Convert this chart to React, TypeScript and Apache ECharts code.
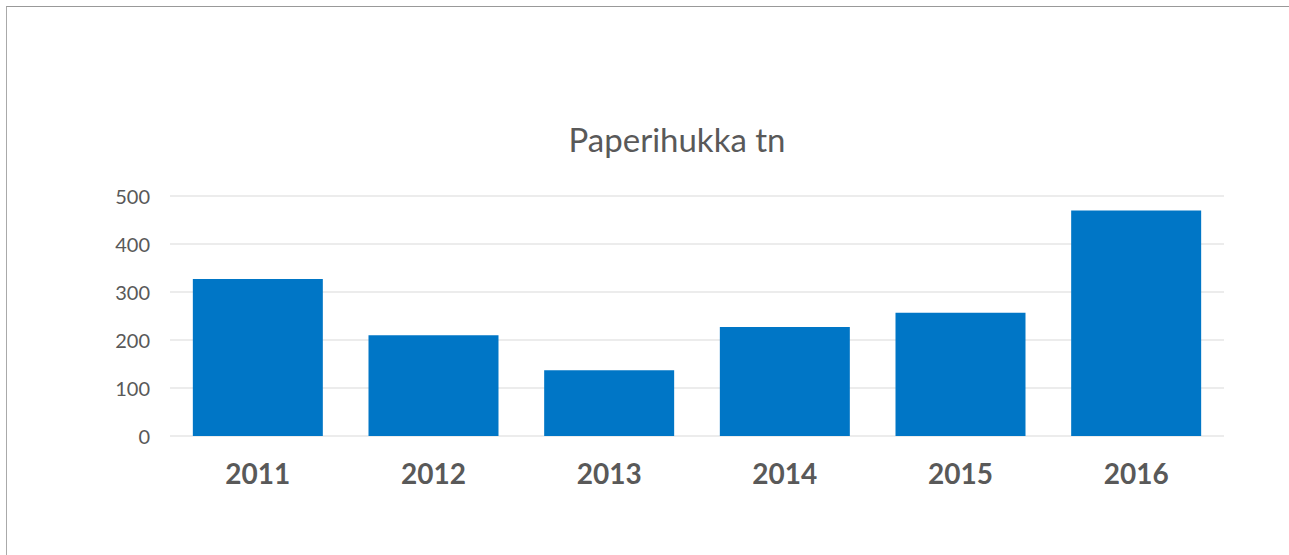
import React, { useEffect, useRef } from "react";
import * as echarts from "echarts";

const categories = ["2011", "2012", "2013", "2014", "2015", "2016"];
const values = [327, 210, 137, 227, 257, 470];
const titleText = "Paperihukka tn";

export default function App() {
  const ref = useRef<HTMLDivElement>(null);
  useEffect(() => {
    if (!ref.current) return;
    const chart = echarts.init(ref.current, null, { renderer: "svg" });
    chart.setOption({
      animation: false,
      backgroundColor: "#ffffff",
      title: {
        text: titleText,
        left: "center",
        top: 110,
        textStyle: {
          fontFamily: "Lato",
          fontSize: 33,
          fontWeight: "normal",
          color: "#595959",
        },
      },
      grid: { left: 163, top: 189, width: 1054, height: 240, containLabel: false },
      xAxis: {
        type: "category",
        data: categories,
        axisLine: { show: false },
        axisTick: { show: false },
        axisLabel: {
          fontFamily: "Lato",
          fontSize: 28,
          fontWeight: "bold",
          color: "#595959",
          margin: 23,
        },
      },
      yAxis: {
        type: "value",
        min: 0,
        max: 500,
        interval: 100,
        axisLine: { show: false },
        axisTick: { show: false },
        splitLine: { lineStyle: { color: "#e6e6e6", width: 1.5 } },
        axisLabel: {
          fontFamily: "Lato",
          fontSize: 20,
          color: "#595959",
          margin: 20,
        },
      },
      series: [
        {
          type: "bar",
          data: values,
          barWidth: "74%",
          itemStyle: { color: "#0076c6" },
        },
      ],
    });
    return () => chart.dispose();
  }, []);
  return (
    <div
      style={{
        position: "fixed",
        left: 0,
        top: 0,
        width: 1289,
        height: 555,
        overflow: "hidden",
        background: "#ffffff",
      }}
    >
      <div
        style={{
          position: "absolute",
          left: 6,
          top: 6,
          borderLeft: "1px solid #aaaaaa",
          borderTop: "1px solid #999999",
          width: 1340,
          height: 600,
        }}
      >
        <div ref={ref} style={{ width: 1340, height: 600 }} />
      </div>
    </div>
  );
}
